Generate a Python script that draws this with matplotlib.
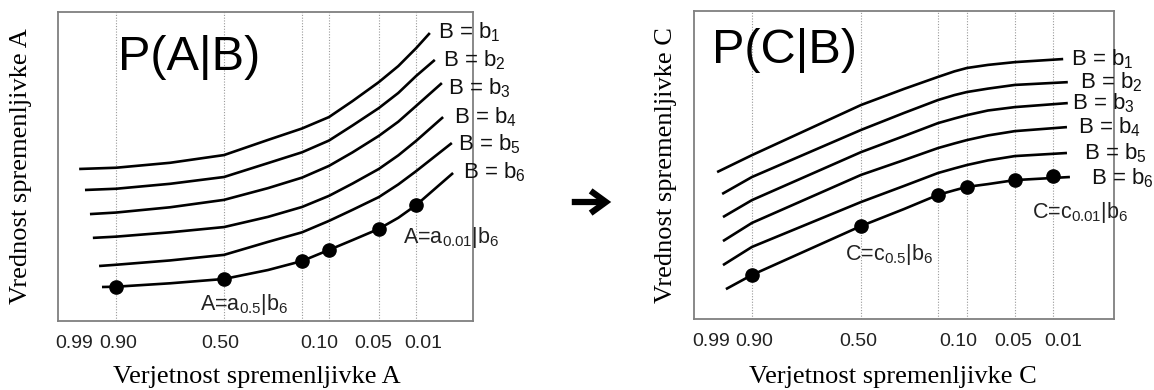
import matplotlib
matplotlib.use('Agg')
import matplotlib.pyplot as plt

plt.rcParams['font.family'] = ['Liberation Sans', 'DejaVu Sans']
plt.rcParams['mathtext.fontset'] = 'custom'
plt.rcParams['mathtext.rm'] = 'Liberation Sans'
plt.rcParams['mathtext.it'] = 'Liberation Sans'
plt.rcParams['mathtext.default'] = 'regular'

# shared probability axis (schematic positions, 0..100 across the frame)
tick_pos = [4.0, 14.4, 39.2, 63.0, 76.0, 88.0]
tick_labels = ['0.99', '0.90', '0.50', '0.10', '0.05', '0.01']
grid_a = [14.0, 40.0, 58.8, 65.3, 77.3, 86.3]
grid_c = [13.8, 39.8, 58.1, 65.0, 76.4, 85.5]
b_names = ['b1', 'b2', 'b3', 'b4', 'b5', 'b6']

# P(A|B): value of A for each b
x_a = [
    [5.1, 14, 27, 40, 50.6, 58.8, 65.3, 71, 77.3, 82, 86.3, 89.6],
    [6.5, 14, 27, 40, 50.6, 58.8, 65.3, 71, 77.3, 82, 86.3, 90.8],
    [7.7, 14, 27, 40, 50.6, 58.8, 65.3, 71, 77.3, 82, 86.3, 92.5],
    [8.4, 14, 27, 40, 50.6, 58.8, 65.3, 71, 77.3, 82, 86.3, 92.8],
    [9.9, 14, 27, 40, 50.6, 58.8, 65.3, 71, 77.3, 82, 86.3, 94.9],
    [10.6, 14, 27, 40, 50.6, 58.8, 65.3, 71, 77.3, 82, 86.3, 95.2],
]
y_a = [
    [49.2, 49.6, 51.2, 53.7, 58.6, 62.3, 66.0, 71.2, 77.3, 82.5, 88.3, 93.2],
    [42.4, 42.8, 44.4, 46.6, 51.1, 54.6, 58.4, 63.3, 68.9, 73.8, 79.3, 84.5],
    [34.6, 35.1, 36.8, 39.2, 43.0, 46.4, 50.2, 54.6, 59.9, 64.5, 69.6, 77.0],
    [26.9, 27.3, 28.7, 30.4, 33.7, 36.9, 40.5, 44.5, 49.2, 53.6, 58.3, 66.0],
    [17.8, 18.2, 19.6, 21.4, 25.6, 28.7, 32.4, 36.0, 40.1, 44.2, 48.5, 57.6],
    [11.0, 11.1, 12.2, 13.6, 16.5, 19.4, 23.0, 26.2, 29.8, 33.4, 37.5, 47.9],
]
dots_a_x = [14.0, 40.0, 58.8, 65.3, 77.3, 86.3]
dots_a_y = [11.1, 13.6, 19.4, 23.0, 29.8, 37.5]

# P(C|B)
x_c = [
    [5.5, 13.8, 39.8, 50, 58.1, 62, 65.0, 70, 76.4, 87.9],
    [6.7, 13.8, 39.8, 50, 58.1, 62, 65.0, 70, 76.4, 89.0],
    [6.9, 13.8, 39.8, 50, 58.1, 62, 65.0, 70, 76.4, 89.0],
    [6.9, 13.8, 39.8, 50, 58.1, 62, 65.0, 70, 76.4, 88.8],
    [6.9, 13.8, 39.8, 50, 58.1, 62, 65.0, 70, 76.4, 88.8],
    [7.6, 13.8, 39.8, 50, 58.1, 62, 65.0, 70, 76.4, 89.5],
]
y_c = [
    [47.7, 53.2, 69.5, 74.7, 78.6, 80.4, 81.5, 82.5, 83.4, 84.4],
    [40.6, 46.1, 61.4, 66.9, 71.1, 72.7, 73.7, 74.8, 76.0, 76.9],
    [33.1, 38.6, 54.2, 59.4, 63.6, 65.1, 66.2, 67.7, 68.8, 70.1],
    [25.3, 31.2, 46.8, 51.6, 55.5, 57.0, 58.1, 59.6, 61.0, 62.3],
    [17.5, 23.4, 38.0, 43.2, 47.4, 48.9, 50.0, 51.5, 52.9, 53.9],
    [9.7, 14.3, 30.2, 35.7, 40.3, 41.8, 42.9, 43.8, 45.1, 46.1],
]
dots_c_x = [13.8, 39.8, 58.1, 65.0, 76.4, 85.5]
dots_c_y = [14.3, 30.2, 40.3, 42.9, 45.1, 46.4]

label_a_xy = [(91.6, 93.5), (92.8, 84.5), (94.0, 75.4), (95.4, 66.0), (96.4, 57.3), (97.6, 48.2)]
label_c_xy = [(89.8, 84.4), (91.9, 76.9), (90.0, 70.1), (91.4, 62.3), (92.9, 53.9), (94.5, 45.6)]


def draw_panel(ax, xs, ys, dx, dy, grid, labels_xy, title, title_xy, var, notes):
    for g in grid:
        ax.axvline(g, color='#9a9a9a', lw=0.8, ls=(0, (1, 1.5)), zorder=1)
    for x, y in zip(xs, ys):
        ax.plot(x, y, color='black', lw=1.9, zorder=3, solid_capstyle='butt',
                solid_joinstyle='round')
    ax.plot(dx, dy, 'o', color='black', ms=9.5, zorder=4)
    for name, (lx, ly) in zip(b_names, labels_xy):
        ax.text(lx, ly, 'B = b$_{%s}$' % name[1], fontsize=16, ha='left',
                va='center', clip_on=False, zorder=5, color='#111111')
    ax.text(title_xy[0], title_xy[1], title, fontsize=35, ha='left', va='baseline')
    for txt, (tx, ty) in notes:
        ax.text(tx, ty, txt, fontsize=15.5, ha='left', va='center', color='#222222')

    ax.set_xlim(0, 100)
    ax.set_ylim(0, 100)
    ax.set_xticks(tick_pos)
    ax.set_xticklabels(tick_labels, fontsize=14, color='#222222')
    ax.set_yticks([])
    ax.tick_params(axis='x', length=0, pad=10)
    for sp in ax.spines.values():
        sp.set_color('#7f7f7f')
        sp.set_linewidth(1.3)
    ax.set_xlabel('Verjetnost spremenljivke ' + var, family='Liberation Serif', fontsize=19)
    ax.set_ylabel('Vrednost spremenljivke ' + var, family='Liberation Serif', fontsize=19)
    ax.xaxis.label.set_va('center')


fig = plt.figure(figsize=(11.54, 3.9), dpi=100)
ax1 = fig.add_axes([58 / 1154, 69 / 390, 415 / 1154, 309 / 390])
ax2 = fig.add_axes([694 / 1154, 71 / 390, 420 / 1154, 308 / 390])

draw_panel(ax1, x_a, y_a, dots_a_x, dots_a_y, grid_a, label_a_xy, 'P(A|B)', (14.5, 81.3), 'A',
           [('A=a$_{0.5}$|b$_6$', (34.2, 5.2)), ('A=a$_{0.01}$|b$_6$', (83.1, 26.9))])
draw_panel(ax2, x_c, y_c, dots_c_x, dots_c_y, grid_c, label_c_xy, 'P(C|B)', (4.3, 83.0), 'C',
           [('C=c$_{0.5}$|b$_6$', (36.0, 20.8)), ('C=c$_{0.01}$|b$_6$', (80.5, 34.7))])

ax1.xaxis.set_label_coords(0.48, -0.181)
ax1.yaxis.set_label_coords(-0.063, 0.5)
ax2.xaxis.set_label_coords(0.474, -0.188)
ax2.yaxis.set_label_coords(-0.04, 0.5)

# arrow between the panels
fig.add_artist(matplotlib.patches.FancyArrowPatch(
    (569 / 1154, 1 - 202 / 390), (614 / 1154, 1 - 202 / 390), transform=fig.transFigure,
    arrowstyle='->,head_length=11,head_width=8', lw=4.5, color='black', mutation_scale=1,
    joinstyle='miter', capstyle='butt'))

fig.savefig('out.png', dpi=100)
